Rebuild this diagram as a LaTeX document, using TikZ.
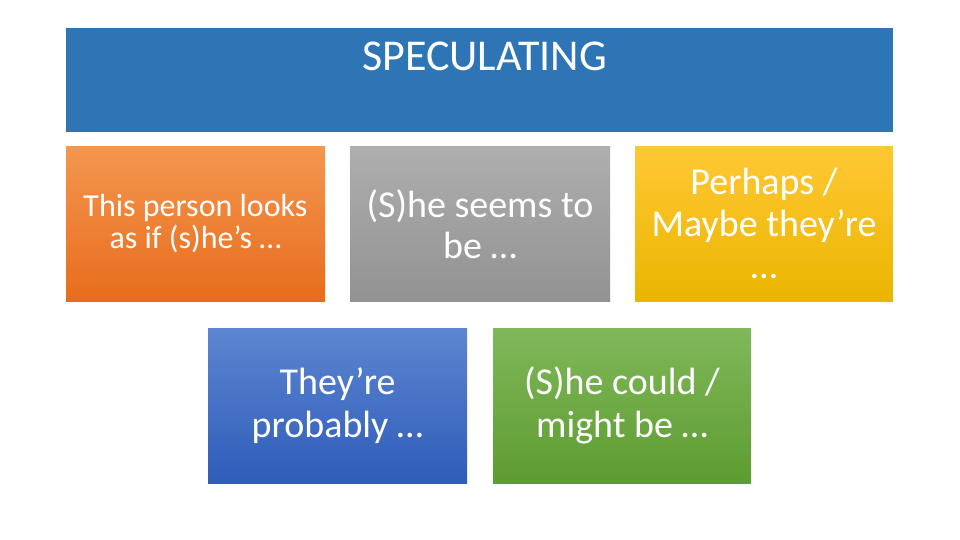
\documentclass[tikz,border=0pt]{standalone}
\usepackage{fontspec}
\setmainfont{Carlito}
\begin{document}
\begin{tikzpicture}[x=1pt,y=-1pt,
  box/.style={rectangle, draw=none, inner sep=0pt, text=white, align=center},
  title/.style={rectangle, draw=none, fill=titleblue, inner sep=0pt}]
\definecolor{titleblue}{HTML}{2E75B6}
\definecolor{orT}{HTML}{F4964F}\definecolor{orB}{HTML}{E86C1C}
\definecolor{grT}{HTML}{AEAEAE}\definecolor{grB}{HTML}{929292}
\definecolor{yeT}{HTML}{FFC834}\definecolor{yeB}{HTML}{EAB500}
\definecolor{blT}{HTML}{5D86D1}\definecolor{blB}{HTML}{2E5CB8}
\definecolor{gnT}{HTML}{80B859}\definecolor{gnB}{HTML}{5D9C31}
\useasboundingbox (0,0) rectangle (960,540);
\fill[white] (0,0) rectangle (960,540);
\node[title, minimum width=827pt, minimum height=104pt] (t) at (479.5,80) {};
\node[text=white, inner sep=0pt, font=\fontsize{44}{52}\selectfont] (tt) at (484.5,56) {SPECULATING};
\node[box, top color=orT, bottom color=orB, minimum width=259pt, minimum height=154pt,
  font=\fontsize{32}{32}\selectfont] (o) at (195.5,224) {This person looks\\as if (s)he’s …};
\node[box, top color=grT, bottom color=grB, minimum width=260pt, minimum height=154pt,
  font=\fontsize{38}{41}\selectfont] (g) at (480,224) {(S)he seems to\\be …};
\node[box, top color=yeT, bottom color=yeB, minimum width=258pt, minimum height=154pt] (y) at (764,224) {};
\node[text=white, inner sep=0pt, align=center, font=\fontsize{38}{42}\selectfont] (yt) at (764,223) {Perhaps /\\Maybe they’re\\…};
\node[box, top color=blT, bottom color=blB, minimum width=259pt, minimum height=155pt,
  font=\fontsize{38}{43}\selectfont] (b) at (337.5,405.5) {They’re\\probably …};
\node[box, top color=gnT, bottom color=gnB, minimum width=258pt, minimum height=155pt,
  font=\fontsize{38}{43}\selectfont] (n) at (622,405.5) {(S)he could /\\might be …};
\end{tikzpicture}
\end{document}
